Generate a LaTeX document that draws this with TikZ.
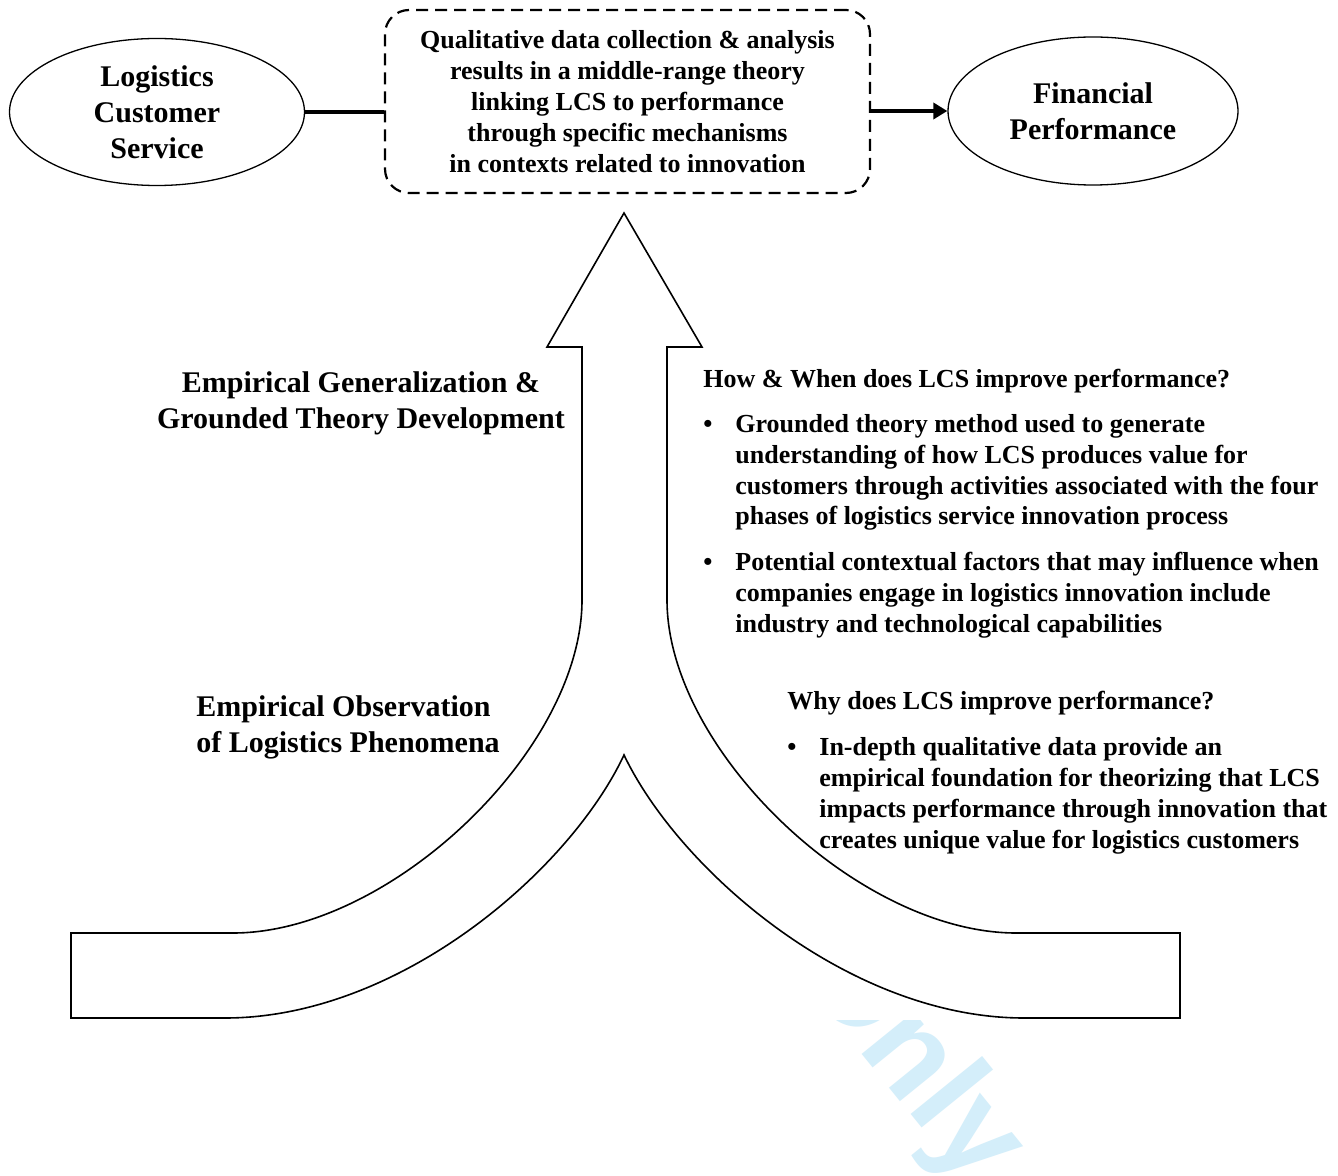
\documentclass[tikz,border=0pt]{standalone}
\usepackage{fontspec}
\setmainfont{Liberation Serif}
\newfontfamily\wmfont{Liberation Sans}
\usetikzlibrary{shapes.geometric,arrows.meta}
\definecolor{wmblue}{RGB}{212,238,250}

\begin{document}
\begin{tikzpicture}[x=0.5pt, y=-0.5pt,
  oval/.style={draw, ellipse, line width=0.65pt, inner sep=0pt, align=center,
               font=\fontsize{15}{18}\selectfont\bfseries},
  midbox/.style={draw, dash pattern=on 6pt off 3.5pt, line width=1.1pt,
                 rounded corners=12pt, inner sep=0pt, align=center,
                 minimum width=242.5pt, minimum height=91.5pt,
                 font=\fontsize{13}{15.5}\selectfont\bfseries},
  link/.style={line width=2pt},
  bigarrow/.style={draw, line width=0.8pt},
  lbl/.style={font=\fontsize{15}{18}\selectfont\bfseries, inner sep=0pt},
  txt/.style={font=\fontsize{13}{15.5}\selectfont\bfseries, inner sep=0pt,
              anchor=base west},
  wm/.style={font=\wmfont\fontsize{63.5}{70}\selectfont\bfseries, text=wmblue,
             rotate=-51, anchor=base west, inner sep=0pt},
]
\useasboundingbox (0,0) rectangle (1338,1176);
\fill[white] (0,0) rectangle (1338,1176);

% watermark, only its lower part shows
\begin{scope}
  \clip (0,1020) rectangle (1338,1176);
  \node[wm] (only) at (794,970) {Only};
\end{scope}

% top row
\node[oval, minimum width=147.5pt, minimum height=73.5pt] (lcs) at (157,112)
  {Logistics\\Customer\\Service};
\node[midbox] (mid) at (627.5,101.5)
  {Qualitative data collection \& analysis\\results in a middle-range theory\\
   linking LCS to performance\\through specific mechanisms\\
   in contexts related to innovation};
\node[oval, minimum width=145pt, minimum height=74pt] (fin) at (1093,111)
  {Financial\\Performance};
\draw[link] (lcs.east) -- (lcs.east -| mid.west);
\draw[link, -{Triangle[length=7pt, width=8pt]}] (fin.west -| mid.east) -- (fin.west);

% big arrow
\draw[bigarrow] (624,213) -- (702,347) -- (667,347) -- (667,600)
  .. controls (667,750) and (859,933) .. (1016,933) -- (1180,933)
  -- (1180,1018) -- (1024,1018)
  .. controls (849,1018) and (679,870) .. (624,755)
  .. controls (570,870) and (400,1018) .. (225,1018) -- (71,1018)
  -- (71,933) -- (233,933)
  .. controls (390,933) and (582,750) .. (582,600) -- (582,347)
  -- (547,347) -- cycle;

% left labels
\node[lbl, align=center] (gen) at (361,403)
  {Empirical Generalization \&\\Grounded Theory Development};
\node[lbl, align=left, anchor=west] (obs) at (196,727)
  {Empirical Observation\\of Logistics Phenomena};

% right texts
\node[txt] (how) at (703,388) {How \& When does LCS improve performance?};
\node[txt] (how1) at (703,432)
  {\begin{tabular}[t]{@{}p{16pt}@{}l@{}}
   \textbullet & Grounded theory method used to generate\\
   & understanding of how LCS produces value for\\
   & customers through activities associated with the four\\
   & phases of logistics service innovation process
   \end{tabular}};
\node[txt] (how2) at (703,570)
  {\begin{tabular}[t]{@{}p{16pt}@{}l@{}}
   \textbullet & Potential contextual factors that may influence when\\
   & companies engage in logistics innovation include\\
   & industry and technological capabilities
   \end{tabular}};
\node[txt] (why) at (787,709) {Why does LCS improve performance?};
\node[txt] (why1) at (787,755)
  {\begin{tabular}[t]{@{}p{16pt}@{}l@{}}
   \textbullet & In-depth qualitative data provide an\\
   & empirical foundation for theorizing that LCS\\
   & impacts performance through innovation that\\
   & creates unique value for logistics customers
   \end{tabular}};
\end{tikzpicture}
\end{document}
